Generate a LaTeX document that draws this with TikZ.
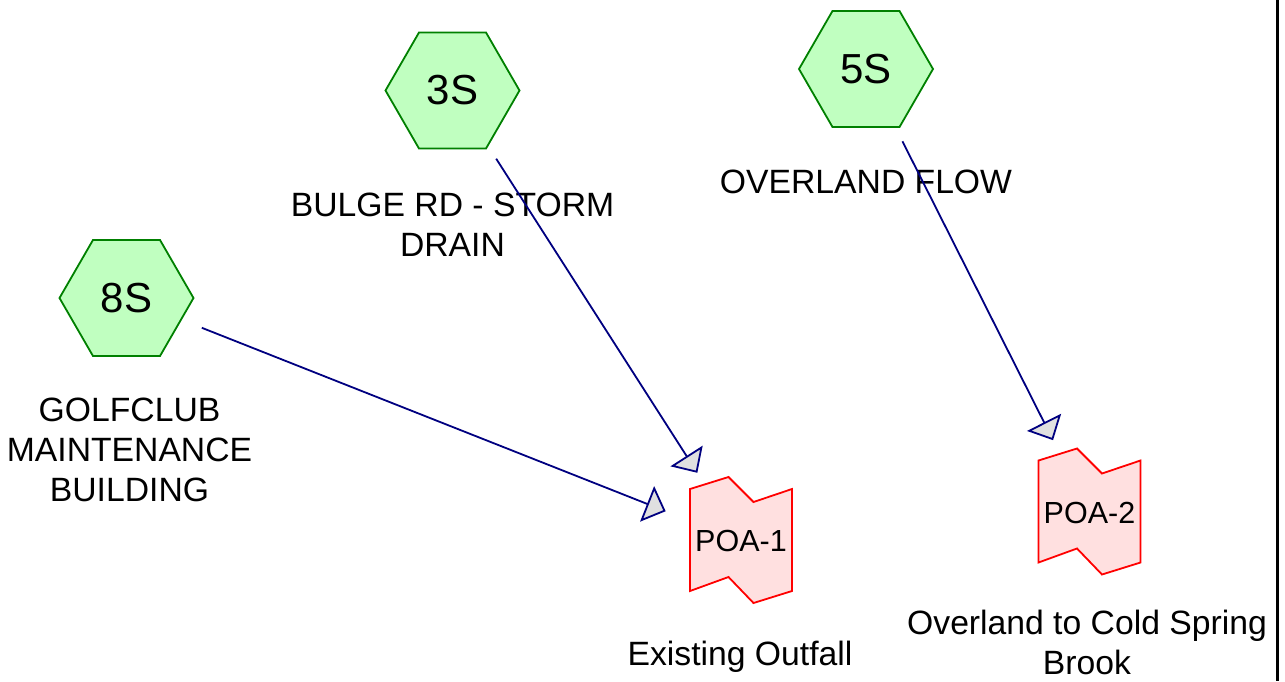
\documentclass[tikz,border=0pt]{standalone}
\usepackage{fontspec}
\setmainfont{Liberation Sans}
\usetikzlibrary{arrows.meta,shapes.geometric}
\definecolor{hexfill}{HTML}{C0FFC0}
\definecolor{hexline}{HTML}{008000}
\definecolor{poafill}{HTML}{FFE0E0}
\definecolor{poaline}{HTML}{FF0000}
\definecolor{flow}{HTML}{000080}
\definecolor{tipfill}{HTML}{E0E0E0}
\begin{document}
\begin{tikzpicture}[x=1pt,y=-1pt,
  hexnode/.style={regular polygon, regular polygon sides=6, minimum size=134pt,
    inner sep=0pt, draw=hexline, fill=hexfill, line width=1.8pt,
    font=\fontsize{42}{48}\selectfont},
  poanode/.style={inner sep=0pt, font=\fontsize{30.5}{36}\selectfont},
  lbl/.style={align=center, inner sep=0pt, font=\fontsize{33.7}{40}\selectfont},
  flowarrow/.style={draw=flow, line width=1.8pt, shorten <=81pt, shorten >=81pt,
    -{Triangle[length=20pt,width=38pt,fill=tipfill]}},
  poashape/.style={draw=poaline, fill=poafill, line width=1.8pt, line join=miter}
]
\useasboundingbox (0,0) rectangle (1285,681);

% POA shapes
\draw[poashape, shift={(741,540)}]
  (-51,-51) -- (-12.5,-63) -- (12.5,-38) -- (51,-51) -- (51,51)
  -- (12.5,63) -- (-12.5,37) -- (-51,51) -- cycle;
\node[poanode] (POA1) at (741,541) {POA-1};
\draw[poashape, shift={(1089.5,511.5)}]
  (-51,-51) -- (-12.5,-63) -- (12.5,-38) -- (51,-51) -- (51,51)
  -- (12.5,63) -- (-12.5,37) -- (-51,51) -- cycle;
\node[poanode] (POA2) at (1089.5,512.5) {POA-2};

% hexagons
\node[hexnode] (S3) at (452.5,90.5) {3S};
\node[hexnode] (S5) at (866,69) {5S};
\node[hexnode] (S8) at (126.5,298) {8S};

% labels
\node[lbl] (L8) at (129.5,450) {GOLFCLUB\\MAINTENANCE\\BUILDING};
\node[lbl] (L3) at (452.5,225) {BULGE RD - STORM\\DRAIN};
\node[lbl] (L5) at (866,181.5) {OVERLAND FLOW};
\node[lbl, anchor=base] (LP1) at (740,665) {Existing Outfall};
\node[lbl] (LP2) at (1087,642.5) {Overland to Cold Spring\\Brook};

% connectors
\draw[flowarrow] (S8.center) -- (POA1.center);
\draw[flowarrow] (S3.center) -- (POA1.center);
\draw[flowarrow] (S5.center) -- (POA2.center);

% right border
\draw[line width=3pt] (1277,0) -- (1277,681);
\end{tikzpicture}
\end{document}
